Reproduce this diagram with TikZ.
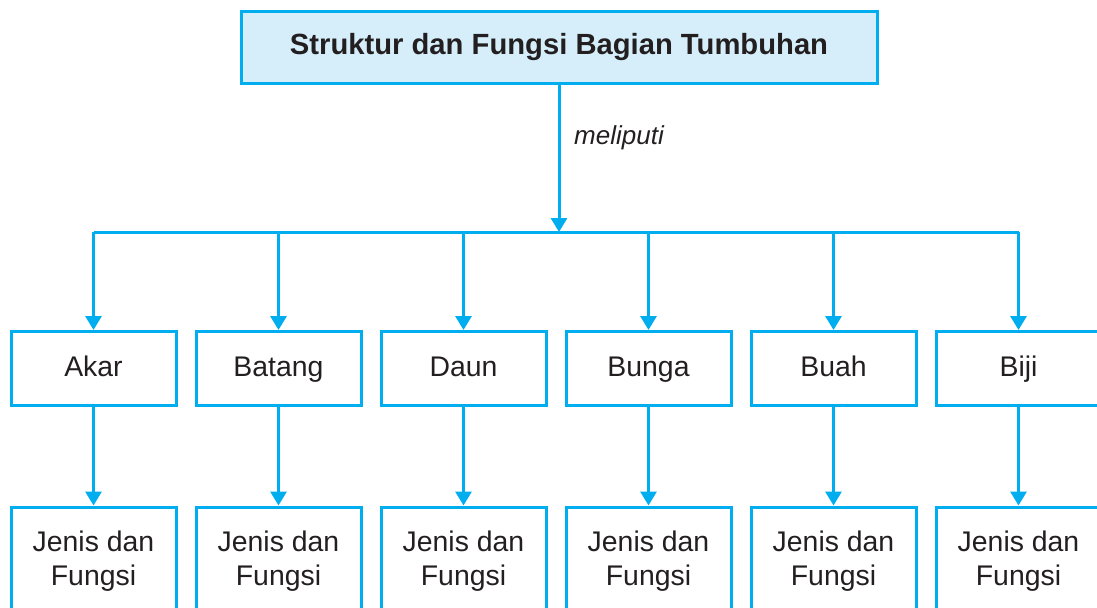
\documentclass[tikz,border=0pt]{standalone}
\usepackage{fontspec}
\setmainfont{Liberation Sans}
\usetikzlibrary{arrows.meta,positioning}
\definecolor{garisbiru}{HTML}{00AEEF}
\definecolor{isibiru}{HTML}{D5EEFA}
\definecolor{teksgelap}{HTML}{231F20}
\tikzset{
	kotak/.style={draw=garisbiru,line width=1.5pt,minimum width=82.5pt,minimum height=37pt,inner sep=0pt,align=center,text=teksgelap,font=\fontsize{14.2}{17}\selectfont},
	panah/.style={garisbiru,line width=1.5pt,-{Triangle[length=7pt,width=8pt]}},
}
\begin{document}
\begin{tikzpicture}[x=0.5pt,y=-0.5pt]
			\clip (0,0) rectangle (1097,607);
			\node[kotak,fill=isibiru,minimum width=318pt,minimum height=36pt,font=\fontsize{14.6}{17}\selectfont\bfseries] (judul) at (559,47.5) {Struktur dan Fungsi Bagian Tumbuhan};
			\coordinate (cabang) at (559,232);
			\node[text=teksgelap,font=\fontsize{13}{15}\selectfont\itshape] (meliputi) at (619,138) {meliputi};
			\foreach \nama/\teks [count=\i from 0] in {akar/Akar,batang/Batang,daun/Daun,bunga/Bunga,buah/Buah,biji/Biji}{
				\node[kotak,text height=10.5pt,text depth=3pt] (\nama) at (93.5+185*\i,368.5) {\teks};
				\node[kotak,minimum height=54pt] (\nama-fungsi) at (93.5+185*\i,561) {Jenis dan\\Fungsi};
				\draw[panah] (\nama.north |- cabang) -- (\nama.north);
				\draw[panah] (\nama.south) -- (\nama-fungsi.north);
			}
			\draw[garisbiru,line width=1.5pt] (akar.north |- cabang) -- (biji.north |- cabang);
			\draw[panah] (judul.south) -- (cabang);
\end{tikzpicture}
\end{document}
